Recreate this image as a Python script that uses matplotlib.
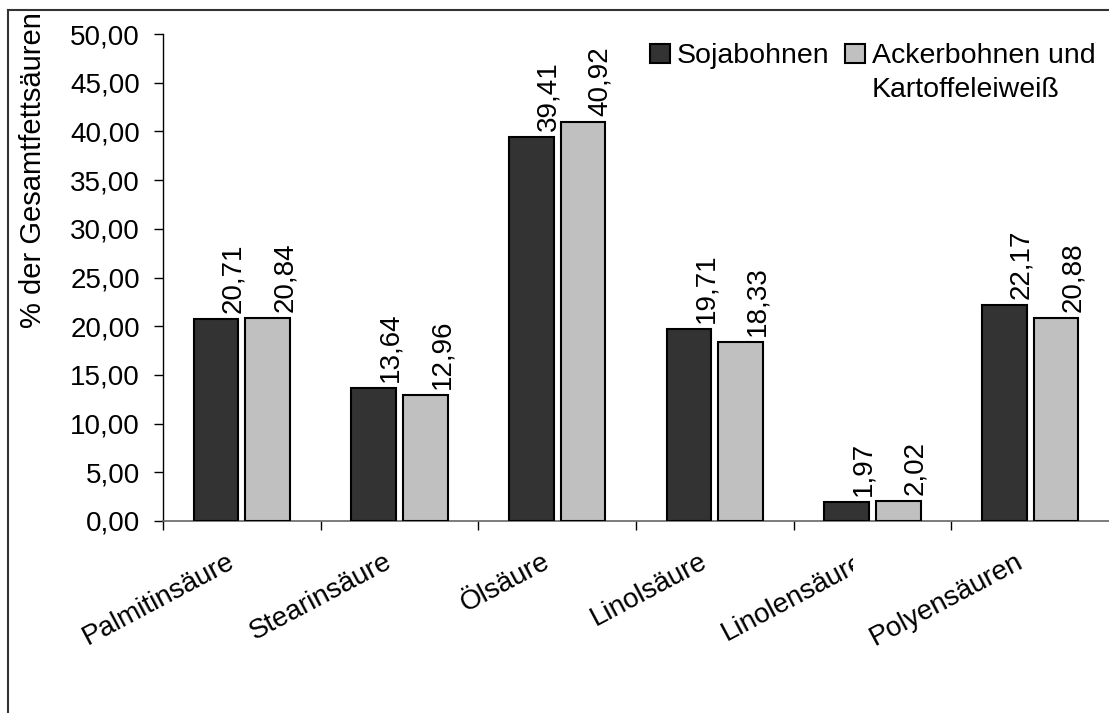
import matplotlib
matplotlib.use('Agg')
import matplotlib.pyplot as plt
from matplotlib.patches import Rectangle
from matplotlib.lines import Line2D
from matplotlib.transforms import ScaledTranslation, Bbox, TransformedBbox
import numpy as np

categories = ["Palmitinsäure", "Stearinsäure", "Ölsäure", "Linolsäure",
              "Linolensäure", "Polyensäuren"]
soja = [20.71, 13.64, 39.41, 19.71, 1.97, 22.17]
acker = [20.84, 12.96, 40.92, 18.33, 2.02, 20.88]
series_names = ["Sojabohnen", "Ackerbohnen und\nKartoffeleiweiß"]
y_ticks = [0, 5, 10, 15, 20, 25, 30, 35, 40, 45, 50]
y_label = "% der Gesamtfettsäuren"
colors = ["#333333", "#c0c0c0"]


def fmt(v):
    return f"{v:.2f}".replace(".", ",")


plt.rcParams['font.family'] = ['Liberation Sans', 'DejaVu Sans']
plt.rcParams['font.size'] = 20

W, H = 1109, 713
fig = plt.figure(figsize=(W / 100, H / 100), dpi=100)


def fx(px):
    return px / W


def fy(py):
    return 1 - py / H


ax = fig.add_axes([fx(163), fy(521), 1 - fx(163), fy(34) - fy(521)])
x = np.arange(len(categories))
bw = 0.285
off = 0.164
ax.bar(x - off, soja, bw, color=colors[0], edgecolor='black', linewidth=1.5, zorder=3)
ax.bar(x + off, acker, bw, color=colors[1], edgecolor='black', linewidth=1.5, zorder=3)

for xi, v in zip(x, soja):
    ax.annotate(fmt(v), (xi - off, v), xytext=(17, 6), textcoords='offset pixels',
                rotation=90, ha='center', va='bottom', fontsize=20, annotation_clip=False)
for xi, v in zip(x, acker):
    ax.annotate(fmt(v), (xi + off, v), xytext=(17, 6), textcoords='offset pixels',
                rotation=90, ha='center', va='bottom', fontsize=20, annotation_clip=False)

ax.set_xlim(-0.5, len(categories) - 0.5)
ax.set_ylim(0, 50)
for s in ['top', 'right']:
    ax.spines[s].set_visible(False)
ax.spines['left'].set_color('black')
ax.spines['left'].set_linewidth(1.0)
ax.spines['bottom'].set_color('#666666')
ax.spines['bottom'].set_linewidth(1.2)

ax.set_yticks(y_ticks)
ax.set_yticklabels([fmt(t) for t in y_ticks])
ax.tick_params(axis='y', length=6.5, width=1, pad=10, labelsize=20, direction='out',
               color='black')

ax.set_xticks(x)
ax.set_xticks(np.arange(-0.5, len(categories) - 1, 1), minor=True)
ax.tick_params(axis='x', which='major', length=0, pad=28, labelsize=20)
ax.tick_params(axis='x', which='minor', length=6.5, width=1, color='black')
ax.set_xticklabels(categories)

shift = ScaledTranslation(-9 / 100, 0, fig.dpi_scale_trans)
for lab in ax.get_xticklabels():
    lab.set_rotation(28)
    lab.set_ha('right')
    lab.set_va('center')
    lab.set_rotation_mode('anchor')
    lab.set_transform(lab.get_transform() + shift)
    if lab.get_text() == "Linolensäure":
        lab.set_clip_box(TransformedBbox(Bbox.from_extents(0, 0, fx(853), 1), fig.transFigure))
        lab.set_clip_on(True)

fig.text(fx(33), fy(12), y_label, rotation=90, ha='center', va='top', fontsize=21)

# legend
leg_x = [650, 845]
for i, name in enumerate(series_names):
    fig.add_artist(Rectangle((fx(leg_x[i]), fy(63)), 20 / W, 19 / H, transform=fig.transFigure,
                             facecolor=colors[i], edgecolor='black', linewidth=1.5))
    for j, line in enumerate(name.split("\n")):
        fig.text(fx(leg_x[i] + 27), fy(63 + 34 * j), line, ha='left', va='baseline', fontsize=20.5)

# outer frame (partially visible)
fig.add_artist(Line2D([fx(8), fx(8)], [fy(10), 0], transform=fig.transFigure,
                      color='#333333', linewidth=1.5))
fig.add_artist(Line2D([fx(8), 1], [fy(10), fy(10)], transform=fig.transFigure,
                      color='#333333', linewidth=1.5))

fig.savefig('out.png', dpi=100)
